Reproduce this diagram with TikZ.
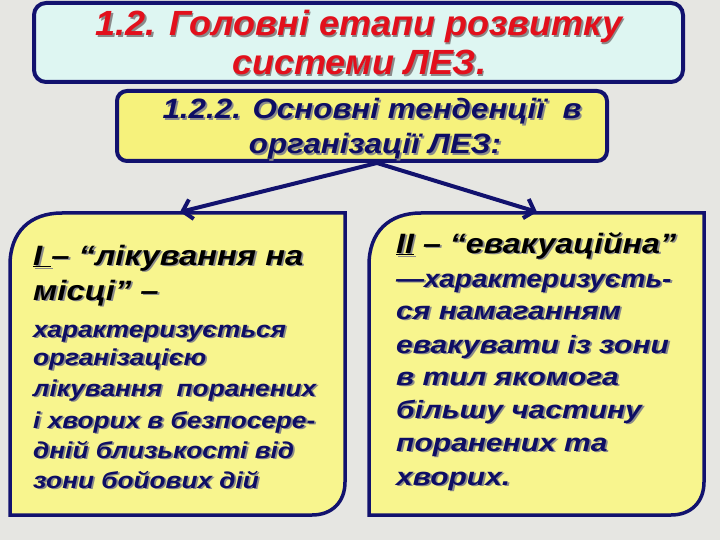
\documentclass[tikz,border=0pt]{standalone}
\usepackage{fontspec}
\usepackage{graphicx}
\setmainfont{Liberation Sans}
\usetikzlibrary{arrows.meta}
\definecolor{bggray}{HTML}{E6E6E2}
\definecolor{navy}{HTML}{12126E}
\definecolor{titlefill}{HTML}{DEF6F2}
\definecolor{subfill}{HTML}{F6F27C}
\definecolor{boxfill}{HTML}{F8F58E}
\definecolor{titlered}{HTML}{E2101C}
\definecolor{shadowgray}{HTML}{8A8A8A}
\definecolor{textnavy}{HTML}{0E0E64}
\newcommand\shd[1]{\rlap{\kern1.6pt\raisebox{-1.6pt}{\color{shadowgray}#1}}#1}
\newcommand\sx[2]{\scalebox{#1}[1]{\shd{#2}}}
\begin{document}
\begin{tikzpicture}[x=1pt,y=-1pt,
  frame/.style={draw=navy,line width=4pt},
  conn/.style={draw=navy,line width=4pt,-{Straight Barb[length=9pt,width=20pt,line width=4pt]}},
  lbl/.style={inner sep=0pt,anchor=base west,font=\bfseries\itshape},
  clbl/.style={inner sep=0pt,anchor=base,font=\bfseries\itshape},
  big/.style={font=\bfseries\itshape\fontsize{28}{32}\selectfont},
  smallL/.style={text=textnavy,font=\bfseries\itshape\fontsize{23}{26}\selectfont},
  smallR/.style={text=textnavy,font=\bfseries\itshape\fontsize{25}{28}\selectfont}]
\useasboundingbox (0,0) rectangle (720,540);
\fill[bggray] (0,0) rectangle (720,540);
% title box
\draw[frame,fill=titlefill,rounded corners=12pt] (34,3) rectangle (683,82);
\node[clbl,text=titlered,font=\bfseries\itshape\fontsize{35}{40}\selectfont] (t1) at (359,36) {\sx{1.03}{1.2. Головні етапи розвитку}};
\node[clbl,text=titlered,font=\bfseries\itshape\fontsize{35}{40}\selectfont] (t2) at (359,75) {\sx{1.03}{системи ЛЕЗ.}};
% subtitle box
\draw[frame,fill=subfill,rounded corners=10pt] (117,91) rectangle (607,161);
\node[clbl,text=textnavy,font=\bfseries\itshape\fontsize{28}{32}\selectfont] (s1) at (372,119) {\sx{1.12}{1.2.2. Основні тенденції\ \ в}};
\node[clbl,text=textnavy,font=\bfseries\itshape\fontsize{28}{32}\selectfont] (s2) at (375,154) {\sx{1.12}{організації ЛЕЗ:}};
\coordinate (apex) at (377,163);
% left box
\draw[navy,line width=3.5pt,fill=boxfill] (10,515) -- (10,265) .. controls (10,232) and (30,213) .. (62,213) -- (345,213) -- (345,482) .. controls (345,502) and (332,515) .. (312,515) -- cycle;
\coordinate (lt) at (180,212);
% right box
\draw[navy,line width=3.5pt,fill=boxfill] (369,515) -- (369,265) .. controls (369,232) and (389,213) .. (421,213) -- (704,213) -- (704,482) .. controls (704,502) and (691,515) .. (671,515) -- cycle;
\coordinate (rt) at (537,212);
% connectors
\draw[conn] (apex) -- (lt);
\draw[conn] (apex) -- (rt);
\begin{scope}[every node/.append style={lbl}]
% left text
\node[big] (l1) at (33,265) {\sx{1.17}{\underline{I }– “лікування на}};
\node[big] (l2) at (33,300) {\sx{1.17}{місці” –}};
\node[smallL] (l3) at (33,337) {\sx{1.14}{характеризується}};
\node[smallL] (l4) at (33,365) {\sx{1.14}{організацією}};
\node[smallL] (l5) at (33,396) {\sx{1.14}{лікування\ \ поранених}};
\node[smallL] (l6) at (33,428) {\sx{1.14}{і хворих в безпосере-}};
\node[smallL] (l7) at (33,458) {\sx{1.14}{дній близькості від}};
\node[smallL] (l8) at (33,488) {\sx{1.14}{зони бойових дій}};
% right text
\node[big] (r1) at (396,253) {\sx{1.15}{\underline{II} – “евакуаційна”}};
\node[smallR] (r2) at (396,287) {\sx{1.12}{—характеризуєть-}};
\node[smallR] (r3) at (396,319) {\sx{1.2}{ся намаганням}};
\node[smallR] (r4) at (396,353) {\sx{1.2}{евакувати із зони}};
\node[smallR] (r5) at (396,385) {\sx{1.2}{в тил якомога}};
\node[smallR] (r6) at (396,418) {\sx{1.2}{більшу частину}};
\node[smallR] (r7) at (396,451) {\sx{1.2}{поранених та}};
\node[smallR] (r8) at (396,485) {\sx{1.2}{хворих.}};
\end{scope}
\end{tikzpicture}
\end{document}
